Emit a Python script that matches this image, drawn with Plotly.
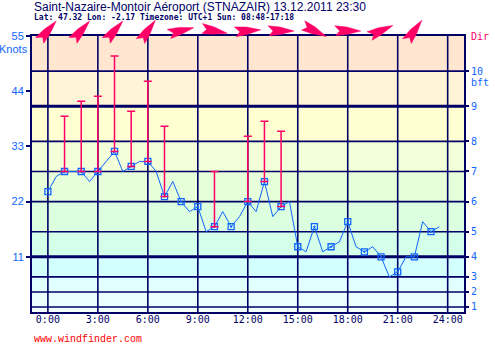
import math
import numpy as np
import plotly.graph_objects as go

# Half-hourly mean wind speed (knots), 00:00 .. 23:30
times = np.arange(48) * 0.5
speed = [24, 27, 28, 28, 28, 26, 28, 30, 32, 28, 29, 30, 30, 28, 23, 26,
         22, 20, 21, 16, 17, 20, 17, 19, 22, 20, 26, 19, 21, 22, 13, 12,
         17, 12, 13, 14, 18, 13, 12, 13, 11, 7, 8, 11, 11, 18, 16, 17]

# Gusts (knots) reported at some full hours
gust_hours = [1, 2, 3, 4, 5, 6, 7, 10, 12, 13, 14]
gust = [39, 42, 43, 51, 40, 46, 37, 28, 35, 38, 36]

# Wind direction (degrees, "from") every two hours
dir_hours = [0, 2, 4, 6, 8, 10, 12, 14, 16, 18, 20, 22]
direction = [220, 220, 220, 215, 255, 280, 265, 270, 295, 270, 245, 215]

# Beaufort scale boundaries in knots
bft_edges = [0, 1, 4, 7, 11, 16, 22, 28, 34, 41, 48, 55]
bft_labels = ["1", "2", "3", "4", "5", "6", "7", "8", "9", "10"]
band_colors = ["#F2FFFF", "#EAFFFF", "#E2FFFF", "#D4FFFF", "#D4FFE8", "#DCFFE0",
               "#E6FFDA", "#F2FFD8", "#FFFFD2", "#FFF4D6", "#FFE6D0"]

knot_ticks = [11, 22, 33, 44, 55]
hour_ticks = [0, 3, 6, 9, 12, 15, 18, 21, 24]
hour_labels = ["0:00", "3:00", "6:00", "9:00", "12:00", "15:00", "18:00", "21:00", "24:00"]

X_RANGE = [-0.954, 24.98]
NAVY = "#000066"
BLUE = "#1166FF"
PINK = "#FF0066"

shapes = []
# colored Beaufort bands
for lo, hi, col in zip(bft_edges[:-1], bft_edges[1:], band_colors):
    shapes.append(dict(type="rect", xref="paper", yref="y", x0=0, x1=1, y0=lo, y1=hi,
                       fillcolor=col, line_width=0, layer="below"))
# Beaufort boundary lines (4 and 9 Bft drawn heavier)
for i, b in enumerate(bft_edges[1:-1]):
    w = 3 if bft_labels[i] in ("4", "9") else 1.6
    shapes.append(dict(type="line", xref="paper", yref="y", x0=0, x1=1, y0=b, y1=b,
                       line=dict(color=NAVY, width=w), layer="below"))
# vertical hour lines
for h in hour_ticks:
    shapes.append(dict(type="line", xref="x", yref="paper", x0=h, x1=h, y0=0, y1=1,
                       line=dict(color=NAVY, width=1.6), layer="below"))

# direction darts: pixel-sized paths anchored just above the top edge,
# placed in paper coordinates so they can overhang the plotting area
dart = [(13, 0), (-1, 4), (-13, 5.2), (-8, 0), (-12, -4.6), (-1, -3.4)]
for h, d in zip(dir_hours, direction):
    theta = math.radians(90 - (d + 180))
    pts = []
    for lx, ly in dart:
        px = lx * math.cos(theta) - ly * math.sin(theta)
        py = lx * math.sin(theta) + ly * math.cos(theta) + 5
        pts.append(f"{px:.2f},{py:.2f}")
    path = "M" + " L".join(pts) + " Z"
    frac = (h - X_RANGE[0]) / (X_RANGE[1] - X_RANGE[0])
    shapes.append(dict(type="path", xref="paper", yref="paper",
                       xsizemode="pixel", ysizemode="pixel",
                       xanchor=frac, yanchor=1, path=path, fillcolor=PINK,
                       line=dict(color=PINK, width=0.5), layer="above"))

fig = go.Figure()

# gusts as one-sided error bars from the hourly mean speed
gust_base = [speed[int(h * 2)] for h in gust_hours]
fig.add_trace(go.Scatter(
    x=gust_hours, y=gust_base, mode="markers", yaxis="y2",
    marker=dict(size=1, opacity=0),
    error_y=dict(type="data", symmetric=False,
                 array=[g - s for g, s in zip(gust, gust_base)],
                 arrayminus=[0] * len(gust),
                 color=PINK, thickness=1.5, width=4),
    hoverinfo="skip", showlegend=False))

fig.add_trace(go.Scatter(
    x=times, y=speed, mode="lines", line=dict(color=BLUE, width=1),
    showlegend=False))

fig.add_trace(go.Scatter(
    x=times[::2], y=speed[::2], mode="markers",
    marker=dict(symbol="square-open-dot", size=6, color=BLUE, line=dict(width=1.3)),
    showlegend=False))

annotations = [
    dict(text="Saint-Nazaire-Montoir Aéroport (STNAZAIR) 13.12.2011 23:30",
         x=0, y=1.105, xanchor="left", yanchor="middle",
         font=dict(family="Liberation Sans", size=12, color=NAVY)),
    dict(text="<b>Lat: 47.32 Lon: -2.17 Timezone: UTC+1 Sun: 08:48-17:18</b>",
         x=0, y=1.069, xanchor="left", yanchor="middle",
         font=dict(family="DejaVu Sans Mono", size=8, color=NAVY)),
    dict(text="Knots", x=-0.004, y=0.953, xanchor="right", yanchor="middle",
         font=dict(family="Liberation Sans", size=11, color=BLUE)),
    dict(text="bft", x=1.012, y=0.830, xanchor="left", yanchor="middle",
         font=dict(family="DejaVu Sans Mono", size=10, color=BLUE)),
    dict(text="Dir", x=1.012, y=1.0, xanchor="left", yanchor="middle",
         font=dict(family="DejaVu Sans Mono", size=10, color=PINK)),
    dict(text="www.windfinder.com", x=0, y=-0.101, xanchor="left", yanchor="middle",
         font=dict(family="Liberation Mono", size=10, color="#FF0000")),
]
for a in annotations:
    a.update(xref="paper", yref="paper", showarrow=False)

fig.update_layout(
    width=495, height=348,
    margin=dict(l=30, r=30, t=36, b=36),
    paper_bgcolor="white", plot_bgcolor="white",
    shapes=shapes, annotations=annotations,
    xaxis=dict(range=X_RANGE, tickvals=hour_ticks, ticktext=hour_labels,
               showgrid=False, zeroline=False, ticks="", ticklabelstandoff=-3,
               showline=True, mirror=True, linecolor=NAVY, linewidth=2,
               tickfont=dict(family="DejaVu Sans Mono", size=10, color=NAVY)),
    yaxis=dict(range=[0, 55], tickvals=knot_ticks, showgrid=False, zeroline=False,
               ticks="outside", ticklen=4, tickcolor=NAVY, tickwidth=1.5,
               showline=True, mirror=True, linecolor=NAVY, linewidth=2,
               tickfont=dict(family="Liberation Sans", size=11, color=BLUE)),
    yaxis2=dict(range=[0, 55], overlaying="y", side="right",
                tickvals=bft_edges[1:-1], ticktext=bft_labels,
                showgrid=False, zeroline=False,
                ticks="outside", ticklen=4, tickcolor=NAVY, tickwidth=1.5,
                tickfont=dict(family="DejaVu Sans Mono", size=10, color=BLUE)),
)

fig.write_html("out.html")
